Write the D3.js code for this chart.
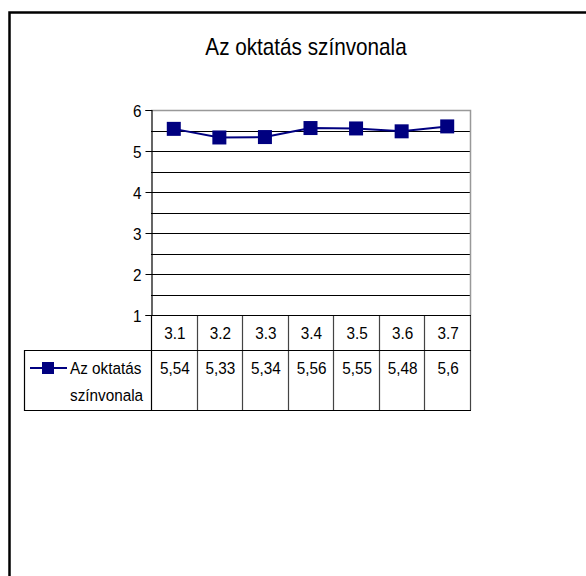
<!DOCTYPE html>
<html>
<head>
<meta charset="utf-8">
<script src="https://cdnjs.cloudflare.com/ajax/libs/d3/7.8.5/d3.min.js"></script>
<style>
  body { margin: 0; background: #fff; }
  text { font-family: "Liberation Sans", Arial, sans-serif; fill: #000; }
</style>
</head>
<body>
<div id="chart"></div>
<script>
var title = "Az oktatás színvonala";
var seriesName = ["Az oktatás", "színvonala"];
var categories = ["3.1", "3.2", "3.3", "3.4", "3.5", "3.6", "3.7"];
var values = [5.54, 5.33, 5.34, 5.56, 5.55, 5.48, 5.6];
var yTicks = [1, 2, 3, 4, 5, 6];
var gridValues = [1.5, 2, 2.5, 3, 3.5, 4, 4.5, 5, 5.5];

var W = 586, H = 576;
var plot = {left: 151, right: 470, top: 110, bottom: 315};
var rowCat = 350, rowEnd = 410, legendLeft = 24;
var navy = "#000080";
var sx = 0.9;   // narrow look of the original font

var svg = d3.select("#chart").append("svg")
    .attr("width", W)
    .attr("height", H);

// put text at x,y but squeezed horizontally
function placeText(sel, fx, fy) {
    sel.attr("transform", function (d, i) {
        return "translate(" + fx(d, i) + "," + fy(d, i) + ") scale(" + sx + ",1)";
    });
}

// outer frame
svg.append("rect")
    .attr("x", 9.5).attr("y", 12.5)
    .attr("width", W + 20).attr("height", H + 20)
    .style("fill", "none")
    .style("stroke", "#000")
    .style("stroke-width", 2.5);

svg.append("text")
    .attr("text-anchor", "middle")
    .style("font-size", "23px")
    .text(title)
    .call(placeText, function () { return 306; }, function () { return 55; });

var yScale = d3.scaleLinear()
    .domain([1, 6])
    .range([plot.bottom, plot.top]);

var xScale = d3.scaleBand()
    .domain(categories)
    .range([plot.left, plot.right]);

// gridlines
svg.selectAll("line.grid")
    .data(gridValues)
    .enter()
    .append("line")
    .attr("class", "grid")
    .attr("x1", plot.left).attr("x2", plot.right)
    .attr("y1", function (d) { return Math.round(yScale(d)) + 0.5; })
    .attr("y2", function (d) { return Math.round(yScale(d)) + 0.5; })
    .style("stroke", "#000")
    .style("stroke-width", 1);

// gray plot border top + right
svg.append("path")
    .attr("d", "M" + plot.left + "," + (plot.top + 0.5) + "H" + (plot.right + 0.5) + "V" + plot.bottom)
    .style("fill", "none")
    .style("stroke", "#999")
    .style("stroke-width", 1.5);

// y axis
var yAxis = svg.append("g")
    .attr("class", "y-axis")
    .attr("transform", "translate(" + (plot.left + 0.5) + ",0)")
    .call(d3.axisLeft(yScale)
        .tickValues(yTicks)
        .tickSize(6)
        .tickPadding(5)
        .tickFormat(d3.format("d")));
yAxis.select(".domain").style("stroke", "#000").style("stroke-width", 1.2);
yAxis.selectAll(".tick line").style("stroke", "#000");
yAxis.selectAll("text")
    .style("font-size", "17px")
    .style("font-family", "Liberation Sans, Arial, sans-serif")
    .attr("dy", "0.36em")
    .attr("transform", "scale(" + sx + ",1)");

// data table
var colEdges = categories.map(function (c) { return xScale(c); }).concat([plot.right]);

svg.selectAll("line.col")
    .data(colEdges)
    .enter()
    .append("line")
    .attr("class", "col")
    .attr("x1", function (d) { return Math.round(d) + 0.5; })
    .attr("x2", function (d) { return Math.round(d) + 0.5; })
    .attr("y1", plot.bottom)
    .attr("y2", rowEnd)
    .style("stroke", function (d, i) { return i === 0 ? "#000" : "#444"; })
    .style("stroke-width", 1.2);

svg.append("line")
    .attr("x1", plot.left).attr("x2", plot.right + 1)
    .attr("y1", plot.bottom + 0.5).attr("y2", plot.bottom + 0.5)
    .style("stroke", "#000").style("stroke-width", 1.2);

svg.append("line")
    .attr("x1", legendLeft).attr("x2", plot.right + 1)
    .attr("y1", rowCat + 0.5).attr("y2", rowCat + 0.5)
    .style("stroke", "#000").style("stroke-width", 1.2);

svg.append("line")
    .attr("x1", legendLeft).attr("x2", plot.right + 1)
    .attr("y1", rowEnd + 0.5).attr("y2", rowEnd + 0.5)
    .style("stroke", "#000").style("stroke-width", 1.2);

svg.append("line")
    .attr("x1", legendLeft + 0.5).attr("x2", legendLeft + 0.5)
    .attr("y1", rowCat).attr("y2", rowEnd + 1)
    .style("stroke", "#000").style("stroke-width", 1.2);

svg.selectAll("text.cat")
    .data(categories)
    .enter()
    .append("text")
    .attr("class", "cat")
    .attr("text-anchor", "middle")
    .style("font-size", "17px")
    .text(function (d) { return d; })
    .call(placeText,
        function (d) { return xScale(d) + xScale.bandwidth() / 2 + 1; },
        function () { return 339; });

svg.selectAll("text.val")
    .data(values)
    .enter()
    .append("text")
    .attr("class", "val")
    .attr("text-anchor", "middle")
    .style("font-size", "17px")
    .text(function (d) { return String(d).replace(".", ","); })
    .call(placeText,
        function (d, i) { return xScale(categories[i]) + xScale.bandwidth() / 2 + 1; },
        function () { return 374; });

// legend key
svg.append("line")
    .attr("x1", 30).attr("x2", 67)
    .attr("y1", 368).attr("y2", 368)
    .style("stroke", navy).style("stroke-width", 2);
svg.append("rect")
    .attr("x", 42).attr("y", 362)
    .attr("width", 12).attr("height", 12)
    .style("fill", navy);

svg.selectAll("text.legend")
    .data(seriesName)
    .enter()
    .append("text")
    .attr("class", "legend")
    .style("font-size", "17px")
    .text(function (d) { return d; })
    .call(placeText,
        function () { return 70; },
        function (d, i) { return 374 + i * 27; });

// series line + markers
var line = d3.line()
    .x(function (d, i) { return xScale(categories[i]) + xScale.bandwidth() / 2; })
    .y(function (d) { return yScale(d); });

svg.append("path")
    .datum(values)
    .attr("d", line)
    .style("fill", "none")
    .style("stroke", navy)
    .style("stroke-width", 2);

var ms = 14;
svg.selectAll("rect.marker")
    .data(values)
    .enter()
    .append("rect")
    .attr("class", "marker")
    .attr("x", function (d, i) { return xScale(categories[i]) + xScale.bandwidth() / 2 - ms / 2; })
    .attr("y", function (d) { return yScale(d) - ms / 2; })
    .attr("width", ms)
    .attr("height", ms)
    .style("fill", navy);
</script>
</body>
</html>
